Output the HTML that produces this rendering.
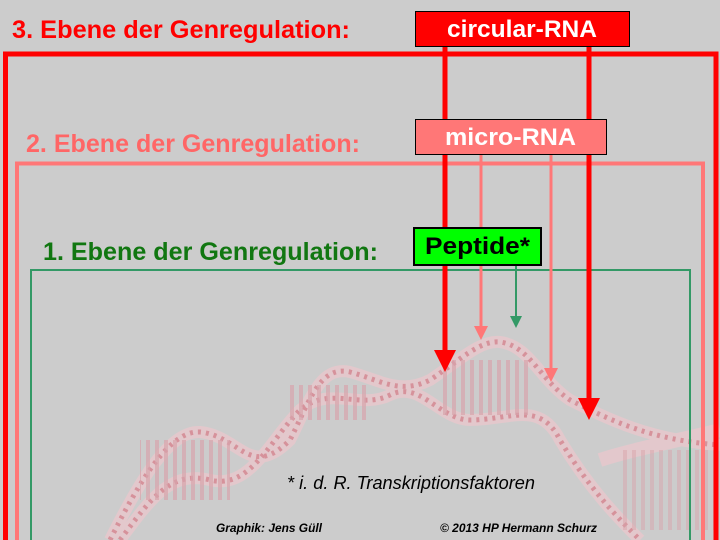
<!DOCTYPE html>
<html><head><meta charset="utf-8"><style>
body{margin:0;width:720px;height:540px;overflow:hidden;background:#cccccc;font-family:"Liberation Sans","DejaVu Sans",sans-serif}
svg{position:absolute;left:0;top:0}
</style></head><body>
<svg width="720" height="540" viewBox="0 0 720 540">
<defs>
<pattern id="rung" width="9" height="40" patternUnits="userSpaceOnUse">
<rect x="2" y="0" width="4" height="40" fill="#d9a0a8"/>
</pattern>
</defs>
<g opacity="0.9">
<path d="M110,540 C140,480 170,430 200,432 C240,436 250,480 290,440 C310,400 320,365 350,372 C380,380 400,395 430,380 C460,360 480,340 500,342 C530,346 540,380 570,400 C610,420 650,440 720,445" fill="none" stroke="#e6c8cc" stroke-width="12"/>
<path d="M120,540 C150,500 170,470 210,480 C250,490 270,440 300,410 C330,385 360,410 390,395 C420,380 440,420 470,420 C510,420 540,400 560,440 C590,490 620,520 640,540" fill="none" stroke="#e6c8cc" stroke-width="12"/>
<path d="M600,460 C630,450 680,440 720,430" fill="none" stroke="#e6c8cc" stroke-width="14"/>
<path d="M120,540 C150,500 170,470 210,480 C250,490 270,440 300,410 C330,385 360,410 390,395 C420,380 440,420 470,420 C510,420 540,400 560,440 C590,490 620,520 640,540" fill="none" stroke="#d88c96" stroke-width="5" stroke-dasharray="3 5"/>
<path d="M110,540 C140,480 170,430 200,432 C240,436 250,480 290,440 C310,400 320,365 350,372 C380,380 400,395 430,380 C460,360 480,340 500,342 C530,346 540,380 570,400 C610,420 650,440 720,445" fill="none" stroke="#d88c96" stroke-width="5" stroke-dasharray="3 5"/>
<rect x="140" y="440" width="90" height="60" fill="url(#rung)" opacity="0.7"/>
<rect x="285" y="385" width="85" height="35" fill="url(#rung)" opacity="0.7"/>
<rect x="440" y="360" width="90" height="55" fill="url(#rung)" opacity="0.7"/>
<rect x="620" y="450" width="100" height="80" fill="url(#rung)" opacity="0.5"/>
</g>
<path d="M5.5,545 V54 H716 V545" fill="none" stroke="#ff0000" stroke-width="5"/>
<path d="M17,545 V163.5 H703 V545" fill="none" stroke="#ff7777" stroke-width="4"/>
<path d="M31,545 V270 H690 V545" fill="none" stroke="#339966" stroke-width="2"/>
<line x1="445" y1="46" x2="445" y2="352" stroke="#ff0000" stroke-width="5"/>
<polygon points="434,350 456,350 445,372" fill="#ff0000"/>
<line x1="589" y1="46" x2="589" y2="400" stroke="#ff0000" stroke-width="5"/>
<polygon points="578,398 600,398 589,420" fill="#ff0000"/>
<line x1="481" y1="154" x2="481" y2="328" stroke="#ff7777" stroke-width="3"/>
<polygon points="474,326 488,326 481,340" fill="#ff7777"/>
<line x1="551" y1="154" x2="551" y2="370" stroke="#ff7777" stroke-width="3"/>
<polygon points="544,368 558,368 551,382" fill="#ff7777"/>
<line x1="516" y1="265" x2="516" y2="318" stroke="#339966" stroke-width="2"/>
<polygon points="510,316 522,316 516,328" fill="#339966"/>
<rect x="415.5" y="11.5" width="214" height="35" fill="#ff0000" stroke="#000" stroke-width="1"/>
<text x="447" y="37" font-size="24" font-weight="bold" fill="#fff" textLength="150" lengthAdjust="spacingAndGlyphs">circular-RNA</text>
<rect x="415.5" y="119.5" width="191" height="35" fill="#ff7777" stroke="#000" stroke-width="1"/>
<text x="445" y="145" font-size="24" font-weight="bold" fill="#fff" textLength="131" lengthAdjust="spacingAndGlyphs">micro-RNA</text>
<rect x="414" y="228" width="127" height="37" fill="#00ff00" stroke="#000" stroke-width="2"/>
<text x="425" y="254" font-size="24" font-weight="bold" fill="#000" textLength="105" lengthAdjust="spacingAndGlyphs">Peptide*</text>
<text x="12" y="38" font-size="25" font-weight="bold" fill="#ff0000" textLength="338" lengthAdjust="spacingAndGlyphs">3. Ebene der Genregulation:</text>
<text x="26" y="152" font-size="25" font-weight="bold" fill="#ff6666" textLength="334" lengthAdjust="spacingAndGlyphs">2. Ebene der Genregulation:</text>
<text x="43" y="260" font-size="25" font-weight="bold" fill="#117711" textLength="335" lengthAdjust="spacingAndGlyphs">1. Ebene der Genregulation:</text>
<text x="287" y="489" font-size="18" font-style="italic" fill="#000" textLength="248" lengthAdjust="spacingAndGlyphs">* i. d. R. Transkriptionsfaktoren</text>
<text x="216" y="532" font-size="12" font-style="italic" font-weight="bold" fill="#000" textLength="106" lengthAdjust="spacingAndGlyphs">Graphik: Jens Güll</text>
<text x="440" y="532" font-size="12" font-style="italic" font-weight="bold" fill="#000" textLength="157" lengthAdjust="spacingAndGlyphs">© 2013 HP Hermann Schurz</text>
</svg>
</body></html>
